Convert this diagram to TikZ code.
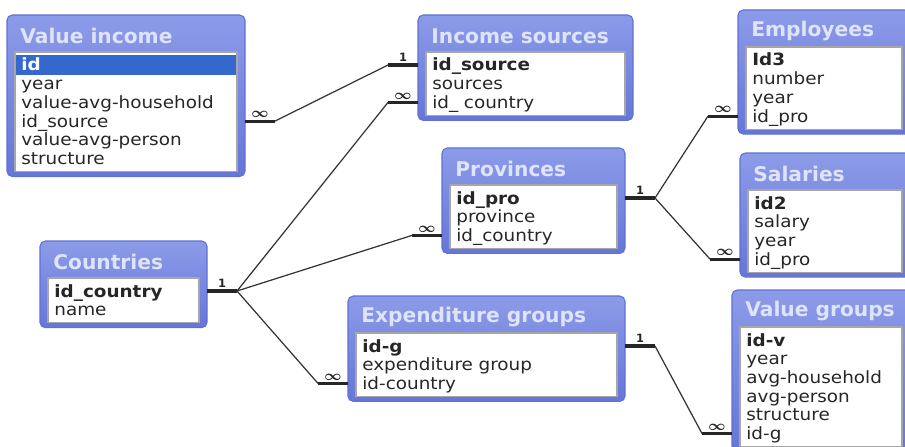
\documentclass[tikz,border=0pt]{standalone}
\usepackage{fontspec}
\setmainfont{DejaVu Sans}
\newfontfamily\rowfont{DejaVu Sans}[FakeStretch=1.09]
\usepackage{amsmath}
\usepackage{amssymb}

\definecolor{framehi}{RGB}{140,155,232}
\definecolor{framelo}{RGB}{102,118,216}
\definecolor{frameline}{RGB}{96,112,212}
\definecolor{selblue}{RGB}{52,104,204}
\definecolor{titletext}{RGB}{222,228,250}

\tikzset{
  tableframe/.style={draw=frameline, line width=0.6pt, top color=framehi, bottom color=framelo,
    rounded corners=3pt, anchor=north west, outer sep=0pt, inner sep=0pt},
  innerbox/.style={fill=white, draw=black!35, line width=0.6pt},
  tabletitle/.style={anchor=west, text=titletext, inner sep=0pt,
    font=\fontsize{11.5}{12}\selectfont\bfseries},
  rowtext/.style={anchor=base west, inner xsep=0.1cm, inner ysep=0.02cm,
    text height=0.3cm, text depth=0.06cm,
    align=left, text=black!85, font=\rowfont\fontsize{9.6}{11}\selectfont},
  keyrow/.style={font=\rowfont\fontsize{9.6}{11}\selectfont\bfseries},
  selrow/.style={keyrow, fill=selblue, text=white},
  relthick/.style={line width=1.8pt, black!85},
  relthin/.style={line width=0.7pt, black!80},
  card/.style={above=1pt, inner sep=0pt, font=\fontsize{8}{8}\selectfont\bfseries\boldmath},
}

% one table: name, x, y (px, top left), width, title, number of rows, rows, style of key row
\newcommand{\dbtable}[8]{%
  \pgfmathsetmacro\tabht{68+(#6-1)*18.7}
  \pgfmathsetmacro\rowwd{(#4-28)*0.02}
  \node[tableframe, minimum width=#4*0.02cm, minimum height=\tabht*0.02cm] (#1) at (#2,#3) {};
  \draw[innerbox] (#2+8,#3+37) rectangle (#2+#4-8,#3+\tabht-5);
  \node[tabletitle] (#1-title) at (#2+13,#3+21) {#5};
  \foreach \r [count=\i] in {#7} {
    \pgfmathsetmacro\rowy{#3+56+(\i-1)*18.7}
    \ifnum\i=1
      \node[rowtext, text width=\rowwd cm, #8] (#1-\i) at (#2+9,\rowy) {\r};
    \else
      \node[rowtext, text width=\rowwd cm] (#1-\i) at (#2+9,\rowy) {\r};
    \fi
  }
}

% one relation: table, row, label / table, row, label
\newcommand{\relation}[6]{%
  \draw[relthick] (#1.east |- #1-#2) -- ++(30,0) node[midway, card] {#3} coordinate (#1-#2-out);
  \draw[relthick] (#4.west |- #4-#5) -- ++(-30,0) node[midway, card] {#6} coordinate (#4-#5-in);
  \draw[relthin] (#1-#2-out) -- (#4-#5-in);
}

\newcommand{\one}{{\fontsize{6.5}{7}\selectfont 1}}
\newcommand{\many}{$\infty$}

\begin{document}
\begin{tikzpicture}[x=0.02cm, y=-0.02cm]
\clip (0,0) rectangle (905,446);

\dbtable{vi}{7}{15}{238}{Value income}{6}{id,year,value-avg-household,id\_source,value-avg-person,structure}{selrow}
\dbtable{is}{418}{15}{215}{Income sources}{3}{id\_source,sources,id\_ country}{keyrow}
\dbtable{em}{738}{10}{172}{Employees}{4}{Id3,number,year,id\_pro}{keyrow}
\dbtable{pr}{442}{148}{183}{Provinces}{3}{id\_pro,province,id\_country}{keyrow}
\dbtable{sa}{740}{153}{170}{Salaries}{4}{id2,salary,year,id\_pro}{keyrow}
\dbtable{co}{40}{241}{167}{Countries}{2}{id\_country,name}{keyrow}
\dbtable{ex}{348}{296}{277}{Expenditure groups}{3}{id-g,expenditure group,id-country}{keyrow}
\dbtable{vg}{732}{290}{178}{Value groups}{6}{id-v,year,avg-household,avg-person,structure,id-g}{keyrow}

\relation{vi}{4}{\many}{is}{1}{\one}
\relation{co}{1}{\one}{is}{3}{\many}
\relation{co}{1}{}{pr}{3}{\many}
\relation{co}{1}{}{ex}{3}{\many}
\relation{pr}{1}{\one}{em}{4}{\many}
\relation{pr}{1}{}{sa}{4}{\many}
\relation{ex}{1}{\one}{vg}{6}{\many}
\end{tikzpicture}
\end{document}
